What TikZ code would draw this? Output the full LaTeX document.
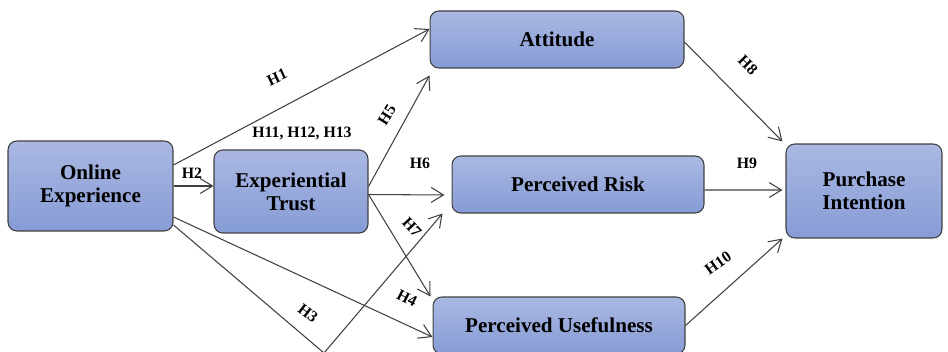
\documentclass[tikz,border=0pt]{standalone}
\usepackage{fontspec}
\setmainfont{Liberation Serif}
\usepackage{tikz}
\usetikzlibrary{arrows.meta,positioning,shapes.geometric,fit,backgrounds}
\definecolor{boxtop}{RGB}{170,184,226}
\definecolor{boxbot}{RGB}{134,156,214}
\definecolor{edgegray}{RGB}{64,64,64}
\tikzset{
  construct/.style={rectangle, rounded corners=5pt, draw=edgegray, line width=0.6pt,
    top color=boxtop, bottom color=boxbot, align=center, inner sep=0pt,
    font=\fontsize{12pt}{13pt}\selectfont\bfseries},
  link/.style={draw=edgegray, line width=0.6pt, -{Straight Barb[length=7pt,width=8.5pt]}},
  hyp/.style={font=\fontsize{9pt}{10pt}\selectfont\bfseries, inner sep=1pt}
}

\begin{document}
\begin{tikzpicture}[x=0.02cm,y=-0.02cm]
\useasboundingbox (0,0) rectangle (948,352);

% Constructs
\node[construct, minimum width=3.3cm, minimum height=1.8cm] (oe) at (90.5,186) {Online\\Experience};
\node[construct, minimum width=3.08cm, minimum height=1.66cm] (et) at (291,191.5) {Experiential\\Trust};
\node[construct, minimum width=5.08cm, minimum height=1.14cm] (att) at (557,39.5) {Attitude};
\node[construct, minimum width=5.04cm, minimum height=1.14cm] (pr) at (578,184.5) {Perceived Risk};
\node[construct, minimum width=5.04cm, minimum height=1.14cm] (pu) at (559,325.5) {Perceived Usefulness};
\node[construct, minimum width=3.12cm, minimum height=1.88cm] (pi) at (864,191) {Purchase\\Intention};

% Paths from online experience
\coordinate (bend) at (324,353);
\draw[link] ([yshift=0.42cm]oe.east) -- ([yshift=0.21cm]att.west);
\draw[link] (oe.east) -- (et.west |- oe.east);
\draw[link] ([yshift=-0.62cm]oe.east) -- ([yshift=-0.23cm]pu.west);
\draw[link] ([yshift=-0.78cm]oe.east) -- (bend) -- ([xshift=-0.18cm]pr.south west);

% Paths from experiential trust
\draw[link] ([yshift=0.1cm]et.east) -- ([yshift=-0.14cm]att.south west);
\draw[link] ([yshift=-0.06cm]et.east) -- ([xshift=-0.14cm,yshift=-0.21cm]pr.west);
\draw[link] ([yshift=-0.06cm]et.east) -- ([xshift=-0.04cm]pu.north west);

% Paths to purchase intention
\draw[link] ([yshift=-0.05cm]att.east) -- ([xshift=-0.06cm,yshift=0.04cm]pi.north west);
\draw[link] ([yshift=-0.11cm]pr.east) -- ([xshift=-0.06cm,yshift=0.02cm]pi.west);
\draw[link] (pu.east) -- ([xshift=-0.06cm]pi.south west);

% Hypotheses
\node[hyp, rotate=25] (h1) at (277,77) {H1};
\node[hyp] (h2) at (192,173) {H2};
\node[hyp, rotate=-37] (h3) at (308,313) {H3};
\node[hyp, rotate=-27] (h4) at (407,298) {H4};
\node[hyp, rotate=58] (h5) at (387,115) {H5};
\node[hyp] (h6) at (420,163) {H6};
\node[hyp, rotate=-47] (h7) at (412,227) {H7};
\node[hyp, rotate=-45] (h8) at (748,65) {H8};
\node[hyp] (h9) at (747,163) {H9};
\node[hyp, rotate=35] (h10) at (718,263) {H10};
\node[hyp] (h111213) at (302,133) {H11, H12, H13};

\end{tikzpicture}
\end{document}
